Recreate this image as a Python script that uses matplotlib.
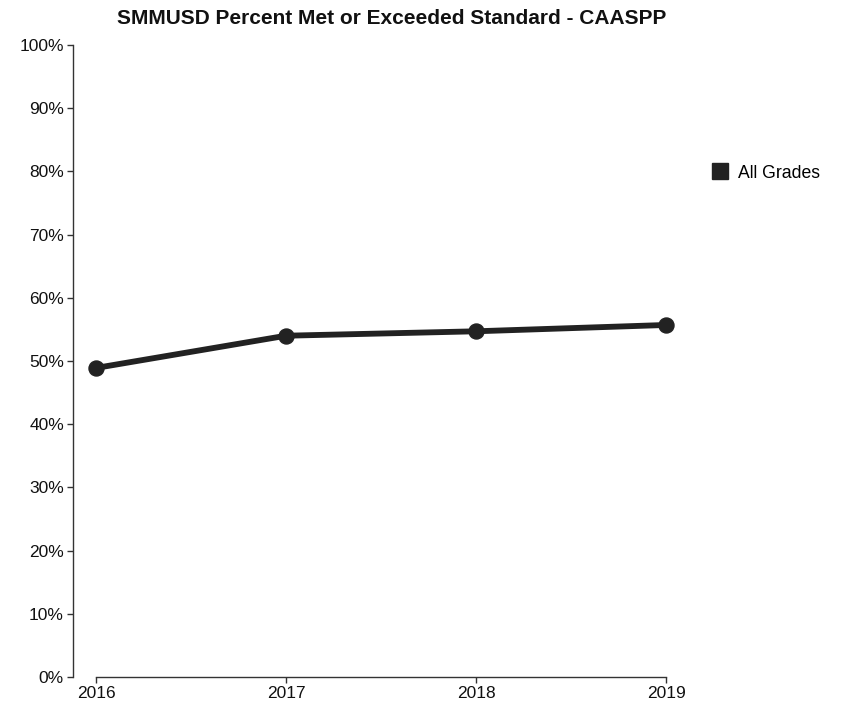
import numpy as np
import matplotlib.pyplot as plt
from matplotlib.lines import Line2D
from matplotlib.ticker import PercentFormatter

plt.rcParams['font.family'] = ['Liberation Sans', 'DejaVu Sans']

# Data
years = [2016, 2017, 2018, 2019]
pct_met = [48.9, 54.0, 54.7, 55.7]
y_ticks = [0, 10, 20, 30, 40, 50, 60, 70, 80, 90, 100]

line_color = '#222222'
axis_color = '#333333'

fig = plt.figure(figsize=(8.42, 7.06), dpi=100)
ax = fig.add_axes([73/842, 29/706, (666-73)/842, (677-45)/706])

ax.plot(years, pct_met, color=line_color, linewidth=4.2,
        marker='o', markersize=10.8, solid_capstyle='round', clip_on=False)

# d3-style axes: separate x axis starting at first year
ax.set_xlim(2016 - 23/190, 2019)
ax.set_ylim(0, 100)
ax.set_xticks(years)
ax.set_xticklabels([str(y) for y in years])
ax.set_yticks(y_ticks)
ax.yaxis.set_major_formatter(PercentFormatter(decimals=0))

for s in ['top', 'right']:
    ax.spines[s].set_visible(False)
ax.spines['left'].set_color(axis_color)
ax.spines['bottom'].set_color(axis_color)
ax.spines['left'].set_linewidth(1)
ax.spines['bottom'].set_linewidth(1)
ax.spines['bottom'].set_bounds(2016, 2019)
ax.tick_params(axis='both', length=4.5, width=1, color=axis_color,
               labelsize=12.5, labelcolor='#111111', pad=2)

fig.text(392/842, 1 - 18/706, 'SMMUSD Percent Met or Exceeded Standard - CAASPP',
         ha='center', va='center', fontsize=15, fontweight='bold', color='#111111')

handle = Line2D([], [], linestyle='none', marker='s', markersize=12,
                color=line_color)
fig.legend([handle], ['All Grades'], loc='center left',
           bbox_to_anchor=(694/842, 1 - 173/706), frameon=False,
           fontsize=12.7, handletextpad=0.4, handlelength=1.2)

fig.savefig('out.png', dpi=100)
